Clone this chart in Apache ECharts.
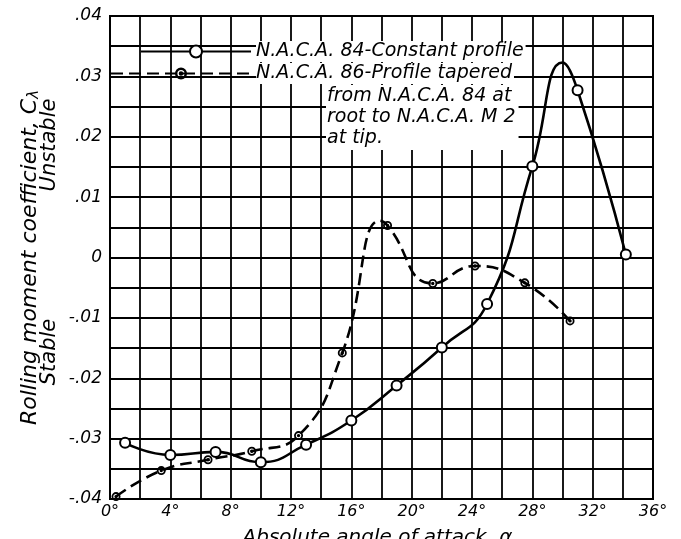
<!DOCTYPE html>
<html>
<head>
<meta charset="utf-8">
<script src="https://cdn.jsdelivr.net/npm/echarts@6/dist/echarts.min.js"></script>
<style>
html,body{margin:0;padding:0;background:#fff;}
#chart{width:681px;height:539px;}
</style>
</head>
<body>
<div id="chart"></div>
<script>
// Series A: N.A.C.A. 84 - constant profile (solid, open circles)
const anglesA = [1, 4, 7, 10, 13, 16, 19, 22, 25, 28, 30, 31, 34.2];
const rollA   = [-0.0307, -0.0327, -0.0322, -0.0339, -0.031, -0.027, -0.0212, -0.0149, -0.0077, 0.0151, 0.0323, 0.0277, 0.0005];
const markA   = [1, 1, 1, 1, 1, 1, 1, 1, 1, 1, 0, 1, 1];
// Series B: N.A.C.A. 86 - tapered profile (dashed, dotted circles)
const anglesB = [0.4, 3.4, 6.5, 9.4, 12.5, 15.4, 17.9, 18.4, 21.4, 24.2, 27.5, 30.5];
const rollB   = [-0.0396, -0.0353, -0.0335, -0.0321, -0.0295, -0.0158, 0.0061, 0.0053, -0.0043, -0.0014, -0.0042, -0.0105];
const markB   = [1, 1, 1, 1, 1, 1, 0, 1, 1, 1, 1, 1];

const nameA = 'N.A.C.A. 84-Constant profile';
const nameB = 'N.A.C.A. 86-Profile tapered from N.A.C.A. 84 at root to N.A.C.A. M 2 at tip.';
const legendLineB = 'N.A.C.A. 86-Profile tapered';
const legendRestB = 'from N.A.C.A. 84 at\nroot to N.A.C.A. M 2\nat tip.';

const xTickStep = 4;
const FONT = 'DejaVu Sans';

const ringDot = 'path://M0,-10A10,10 0 1,1 0,10A10,10 0 1,1 0,-10ZM0,-6A6,6 0 1,0 0,6A6,6 0 1,0 0,-6ZM0,-3.8A3.8,3.8 0 1,1 0,3.8A3.8,3.8 0 1,1 0,-3.8Z';

function build(xs, ys, marks) {
  return xs.map((x, i) => marks[i] ? [x, ys[i]] : {value: [x, ys[i]], symbol: 'none'});
}

function fmtY(v) {
  const k = Math.round(v * 1000);
  if (k % 10 !== 0) return '';
  if (k === 0) return '0';
  const s = (Math.abs(k) / 1000).toFixed(2).replace(/^0/, '');
  return (k < 0 ? '-' : '') + s;
}

const chart = echarts.init(document.getElementById('chart'));
const textBase = {fontFamily: FONT, fontStyle: 'italic', color: '#000'};

chart.setOption({
  backgroundColor: '#fff',
  animation: false,
  grid: {left: 110, top: 16, right: 28, bottom: 40, show: true, borderColor: '#000', borderWidth: 2,
    backgroundColor: 'transparent', containLabel: false, outerBoundsMode: 'none'},
  xAxis: {
    type: 'value', min: 0, max: 36, interval: 2,
    axisLine: {show: true, lineStyle: {color: '#000', width: 2}},
    axisTick: {show: false},
    splitLine: {show: true, lineStyle: {color: '#000', width: 1.8}},
    axisLabel: Object.assign({}, textBase, {fontSize: 16, margin: 5,
      formatter: v => (Math.round(v) % xTickStep === 0 ? Math.round(v) + '°' : '')}),
    name: 'Absolute angle of attack, α{sub|o}',
    nameLocation: 'middle', nameGap: 28,
    nameTextStyle: Object.assign({}, textBase, {fontSize: 20, verticalAlign: 'top',
      rich: {sub: Object.assign({}, textBase, {fontSize: 13, padding: [9, 0, 0, 0]})}})
  },
  yAxis: {
    type: 'value', min: -0.04, max: 0.04, interval: 0.005,
    axisLine: {show: true, lineStyle: {color: '#000', width: 2}},
    axisTick: {show: false},
    splitLine: {show: true, lineStyle: {color: '#000', width: 1.8}},
    axisLabel: Object.assign({}, textBase, {fontSize: 17, margin: 8, formatter: fmtY}),
    name: 'Rolling moment coefficient, C{sub|λ}',
    nameLocation: 'middle', nameRotate: 90, nameGap: 68,
    nameTextStyle: Object.assign({}, textBase, {fontSize: 22,
      rich: {sub: Object.assign({}, textBase, {fontSize: 15, padding: [9, 0, 0, 0]})}})
  },
  legend: [
    {
      data: [nameA], left: 140, top: 41, padding: 0,
      itemWidth: 110, itemHeight: 15,
      textStyle: Object.assign({}, textBase, {fontSize: 19, backgroundColor: '#fff', padding: [1, 2, 1, 0]})
    },
    {
      data: [nameB], left: 110, top: 63, padding: 0,
      itemWidth: 140, itemHeight: 15,
      formatter: () => legendLineB,
      textStyle: Object.assign({}, textBase, {fontSize: 19, backgroundColor: '#fff', padding: [1, 2, 1, 0]})
    }
  ],
  graphic: [
    {type: 'text', left: 326, top: 85, z: 100,
      style: {text: legendRestB, fill: '#000', fontFamily: FONT, fontStyle: 'italic', fontSize: 19, lineHeight: 21, backgroundColor: '#fff', padding: [1, 3, 1, 1]}},
    {type: 'text', x: 50, y: 145, rotation: Math.PI / 2, z: 100,
      style: {text: 'Unstable', fill: '#000', fontFamily: FONT, fontStyle: 'italic', fontSize: 21, align: 'center', verticalAlign: 'middle'}},
    {type: 'text', x: 50, y: 352, rotation: Math.PI / 2, z: 100,
      style: {text: 'Stable', fill: '#000', fontFamily: FONT, fontStyle: 'italic', fontSize: 21, align: 'center', verticalAlign: 'middle'}}
  ],
  series: [
    {
      name: nameA, type: 'line', smooth: 0.5,
      data: build(anglesA, rollA, markA),
      symbol: 'emptyCircle', symbolSize: 10,
      lineStyle: {color: '#000', width: 2.6},
      itemStyle: {color: '#000', borderColor: '#000', borderWidth: 2},
      z: 5
    },
    {
      name: nameB, type: 'line', smooth: 0.5,
      data: build(anglesB, rollB, markB),
      symbol: ringDot, symbolSize: 9,
      lineStyle: {color: '#000', width: 2.6, type: [12, 6]},
      itemStyle: {color: '#000'},
      z: 4
    }
  ]
});
</script>
</body>
</html>
